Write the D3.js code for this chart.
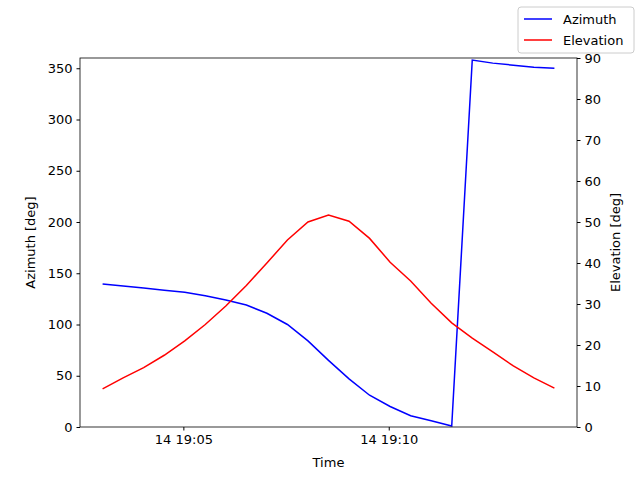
<!DOCTYPE html>
<html><head><meta charset="utf-8">
<script src="https://cdn.jsdelivr.net/npm/d3@7"></script>
<style>body{margin:0;background:#fff}text{font-family:"DejaVu Sans",sans-serif}</style>
</head><body>
<script>
// samples every 30 s starting 19:03:02
const times = ["19:03:02","19:03:32","19:04:02","19:04:32","19:05:02","19:05:32","19:06:02","19:06:32",
  "19:07:02","19:07:32","19:08:02","19:08:32","19:09:02","19:09:32","19:10:02","19:10:32","19:11:02",
  "19:11:32","19:12:02","19:12:32","19:13:02","19:13:32","19:14:02"]
const azimuth = [139.5,137.5,135.5,133.5,131.5,128,124,119,111,100,84,65,47,31,20,11,6,1,358,355,353,351,350]
const elevation = [9.3,12,14.5,17.5,21,25,29.5,34.5,40,45.6,50,51.7,50.2,46,40.2,35.6,30.2,25.4,21.7,18.3,14.9,12,9.5]
const azTicks = [0,50,100,150,200,250,300,350]
const elTicks = [0,10,20,30,40,50,60,70,80,90]

const W = 640, H = 480
const m = {left: 80, right: 577, top: 58, bottom: 427}
const parse = s => d3.timeParse("%Y-%m-%d %H:%M:%S")("2024-01-14 " + s)
const t = times.map(parse)

const t0 = t[0], t1 = t[t.length - 1], pad = (t1 - t0) * 0.05
const x = d3.scaleTime().domain([new Date(+t0 - pad), new Date(+t1 + pad)]).range([m.left, m.right])
const yL = d3.scaleLinear().domain([0, 360]).range([m.bottom, m.top])
const yR = d3.scaleLinear().domain([0, 90]).range([m.bottom, m.top])

const svg = d3.select("body").append("svg").attr("width", W).attr("height", H)
const fs = 13

svg.append("path").datum(azimuth)
  .attr("fill", "none").attr("stroke", "blue").attr("stroke-width", 1.5)
  .attr("d", d3.line().x((d, i) => x(t[i])).y(d => yL(d)))
svg.append("path").datum(elevation)
  .attr("fill", "none").attr("stroke", "red").attr("stroke-width", 1.5)
  .attr("d", d3.line().x((d, i) => x(t[i])).y(d => yR(d)))

const gx = svg.append("g").attr("transform", `translate(0,${m.bottom})`)
  .call(d3.axisBottom(x).tickValues([parse("19:05:00"), parse("19:10:00")])
    .tickFormat(d3.timeFormat("%d %H:%M")).tickSizeOuter(0).tickSize(3.5).tickPadding(4))
const gl = svg.append("g").attr("transform", `translate(${m.left},0)`)
  .call(d3.axisLeft(yL).tickValues(azTicks).tickSizeOuter(0).tickSize(3.5).tickPadding(4))
const gr = svg.append("g").attr("transform", `translate(${m.right},0)`)
  .call(d3.axisRight(yR).tickValues(elTicks).tickSizeOuter(0).tickSize(3.5).tickPadding(4))
for (const g of [gx, gl, gr]) {
  g.selectAll("text").attr("font-size", fs).attr("fill", "#000").attr("font-family", "DejaVu Sans")
  g.selectAll(".domain").remove()
  g.selectAll("line").attr("stroke", "#000")
}
svg.append("rect").attr("x", m.left).attr("y", m.top)
  .attr("width", m.right - m.left).attr("height", m.bottom - m.top)
  .attr("fill", "none").attr("stroke", "#000").attr("stroke-width", 0.8)

svg.append("text").attr("x", (m.left + m.right) / 2).attr("y", 467)
  .attr("text-anchor", "middle").attr("font-size", fs).text("Time")
svg.append("text").attr("transform", `translate(35,${(m.top + m.bottom) / 2}) rotate(-90)`)
  .attr("text-anchor", "middle").attr("font-size", fs).text("Azimuth [deg]")
svg.append("text").attr("transform", `translate(620,${(m.top + m.bottom) / 2}) rotate(-90)`)
  .attr("text-anchor", "middle").attr("font-size", fs).text("Elevation [deg]")

// legend
const lg = svg.append("g").attr("transform", "translate(518,7)")
lg.append("rect").attr("width", 116).attr("height", 46).attr("rx", 3)
  .attr("fill", "#fff").attr("stroke", "#ccc")
const items = [["Azimuth", "blue"], ["Elevation", "red"]]
items.forEach(([name, c], i) => {
  const yy = 12 + i * 21
  lg.append("line").attr("x1", 6).attr("x2", 34).attr("y1", yy).attr("y2", yy)
    .attr("stroke", c).attr("stroke-width", 1.5)
  lg.append("text").attr("x", 45).attr("y", yy + 4.5).attr("font-size", fs).text(name)
})
</script>
</body></html>
